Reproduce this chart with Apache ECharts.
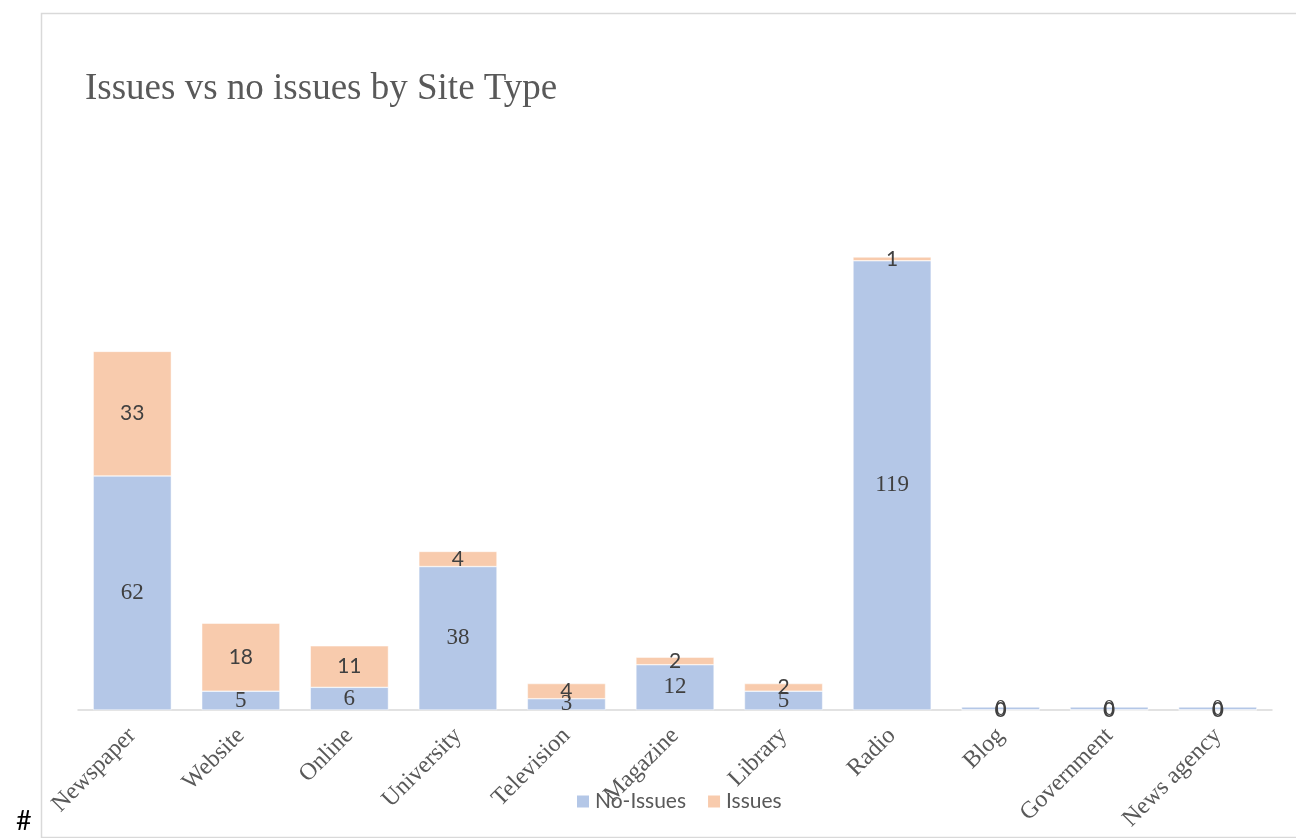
<!DOCTYPE html>
<html>
<head>
<meta charset="utf-8">
<script src="https://cdn.jsdelivr.net/npm/echarts@6/dist/echarts.min.js"></script>
<style>
  html, body { margin: 0; padding: 0; background: #fff; }
  #box-view { width: 1296px; height: 838px; }
</style>
</head>
<body>
<div id="box-view"></div>
<script>
// data
let siteTypes = ['Newspaper', 'Website', 'Online', 'University', 'Television', 'Magazine', 'Library', 'Radio', 'Blog', 'Government', 'News agency'];
let noIssues = [62, 5, 6, 38, 3, 12, 5, 119, 0, 0, 0];
let issues = [33, 18, 11, 4, 4, 2, 2, 1, 0, 0, 0];

let serif = '"Liberation Serif", "DejaVu Serif", serif';
let sans = 'Lato, "Liberation Sans", sans-serif';

let option = {
  color: ['#b4c7e7', '#f8cbad'],
  animation: false,
  title: [
    {
      text: 'Issues vs no issues by Site Type',
      left: 80,
      top: 66,
      textStyle: { fontFamily: serif, fontSize: 37, fontWeight: 'normal', color: '#595959' }
    },
    {
      text: '#',
      left: 11,
      top: 803,
      textStyle: { fontFamily: sans, fontSize: 27, fontWeight: 'normal', color: '#000' }
    }
  ],
  graphic: [
    {
      type: 'rect',
      left: 39, top: 11,
      shape: { width: 1300, height: 824 },
      style: { fill: 'none', stroke: '#d9d9d9', lineWidth: 1.5 },
      silent: true
    }
  ],
  legend: {
    left: 570,
    top: 786,
    itemWidth: 14,
    itemHeight: 14,
    itemGap: 20,
    icon: 'rect',
    textStyle: { fontFamily: sans, fontSize: 21, color: '#595959' },
    data: ['No-Issues', 'Issues']
  },
  grid: {
    left: 78,
    right: 24,
    top: 257,
    bottom: 128,
    containLabel: false
  },
  xAxis: {
    type: 'category',
    data: siteTypes,
    axisLine: { show: true, lineStyle: { color: '#d9d9d9', width: 1.5 } },
    axisTick: { show: false },
    axisLabel: {
      rotate: 45,
      margin: 22,
      interval: 0,
      fontFamily: serif,
      fontSize: 24,
      color: '#595959'
    }
  },
  yAxis: {
    type: 'value',
    min: 0,
    max: 120,
    show: false,
    splitLine: { show: false }
  },
  series: [
    {
      name: 'No-Issues',
      type: 'bar',
      stack: 'total',
      barCategoryGap: '28%',
      barMinHeight: 3,
      data: noIssues,
      itemStyle: { borderColor: '#fff', borderWidth: 0.5 },
      label: {
        show: true,
        position: 'inside',
        fontFamily: serif,
        fontSize: 23,
        color: '#404040'
      }
    },
    {
      name: 'Issues',
      type: 'bar',
      stack: 'total',
      barCategoryGap: '28%',
      data: issues,
      itemStyle: { borderColor: '#fff', borderWidth: 0.5 },
      label: {
        show: true,
        position: 'inside',
        fontFamily: sans,
        fontSize: 21,
        color: '#404040'
      }
    }
  ]
};

let chart = echarts.init(document.getElementById('box-view'));
chart.setOption(option);
</script>
</body>
</html>
